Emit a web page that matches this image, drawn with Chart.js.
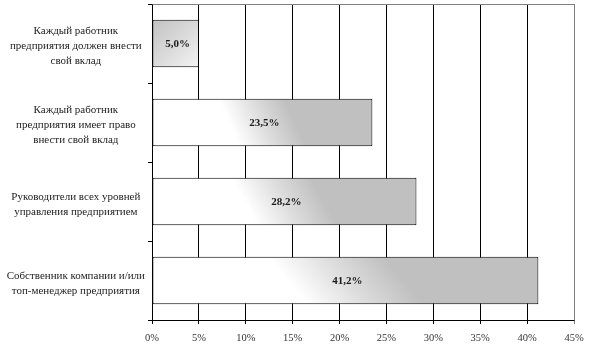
<!DOCTYPE html>
<html lang="ru">
<head>
<meta charset="UTF-8">
<title>Вклад в развитие предприятия</title>
<script src="https://cdn.jsdelivr.net/npm/chart.js"></script>
<style>
    html, body { margin: 0; padding: 0; background: #ffffff; }
    #wrap { width: 589px; height: 351px; }
</style>
</head>
<body>
<div id="wrap"><canvas id="myBarChart" width="589" height="351"></canvas></div>
<script>
// data
var categories = [
    ['Каждый работник', 'предприятия должен внести', 'свой вклад'],
    ['Каждый работник', 'предприятия имеет право', 'внести свой вклад'],
    ['Руководители всех уровней', 'управления предприятием'],
    ['Собственник компании и/или', 'топ-менеджер предприятия']
];
var shares = [5.0, 23.5, 28.2, 41.2];
var xTicks = [0, 5, 10, 15, 20, 25, 30, 35, 40, 45];

var serif = '"Liberation Serif", "DejaVu Serif", serif';

// white -> silver fill, slanted like the original
function barFill(context) {
    var chart = context.chart;
    if (!chart.chartArea || !chart.scales.x || !chart.scales.y) return '#c0c0c0';
    var xs = chart.scales.x, ys = chart.scales.y;
    var x0 = xs.getPixelForValue(0);
    var x1 = xs.getPixelForValue(context.raw);
    var yc = ys.getPixelForValue(context.dataIndex);
    var h = ys.height / categories.length * 0.6;
    var w = x1 - x0;
    var g;
    if (w < 2 * h) {
        g = chart.ctx.createLinearGradient(x0, yc - h / 2, x1, yc + h / 2);
        g.addColorStop(0, '#c2c2c2');
        g.addColorStop(0.55, '#dcdcdc');
        g.addColorStop(1, '#f4f4f4');
        return g;
    }
    var tilt = 0.1 * w;
    var len = Math.sqrt(h * h + tilt * tilt);
    var nx = h / len, ny = -tilt / len;
    var ax = x0 + 0.35 * w, ay = yc;
    var d = 0.3 * w * nx;
    g = chart.ctx.createLinearGradient(ax, ay, ax + nx * d, ay + ny * d);
    g.addColorStop(0, '#ffffff');
    g.addColorStop(0.5, '#dedede');
    g.addColorStop(1, '#c0c0c0');
    return g;
}

var valueLabels = {
    id: 'valueLabels',
    afterDatasetsDraw: function (chart) {
        var ctx = chart.ctx;
        var meta = chart.getDatasetMeta(0);
        ctx.save();
        ctx.font = 'bold 11px ' + serif;
        ctx.fillStyle = '#1a1a1a';
        ctx.textAlign = 'center';
        ctx.textBaseline = 'middle';
        meta.data.forEach(function (bar, i) {
            var txt = shares[i].toFixed(1).replace('.', ',') + '%';
            ctx.fillText(txt, (bar.x + bar.base) / 2 + 2, bar.y + 1);
        });
        ctx.restore();
    }
};

// grey top and right edges of the plot area
var plotFrame = {
    id: 'plotFrame',
    afterDraw: function (chart) {
        var a = chart.chartArea, ctx = chart.ctx;
        ctx.save();
        ctx.strokeStyle = '#808080';
        ctx.lineWidth = 1;
        ctx.beginPath();
        ctx.moveTo(Math.round(a.left) + 0.5, Math.round(a.top) + 0.5);
        ctx.lineTo(Math.round(a.right) + 0.5, Math.round(a.top) + 0.5);
        ctx.lineTo(Math.round(a.right) + 0.5, Math.round(a.bottom) + 0.5);
        ctx.stroke();
        ctx.restore();
    }
};

var ctxBar = document.getElementById('myBarChart').getContext('2d');
var myBarChart = new Chart(ctxBar, {
    type: 'bar',
    data: {
        labels: categories,
        datasets: [{
            data: shares,
            backgroundColor: barFill,
            borderColor: '#000000',
            borderWidth: 1,
            borderSkipped: false,
            categoryPercentage: 1,
            barPercentage: 0.6
        }]
    },
    options: {
        indexAxis: 'y',
        responsive: false,
        animation: false,
        layout: { padding: { top: 4, right: 15, left: 0, bottom: 0 } },
        plugins: {
            legend: { display: false },
            tooltip: { enabled: false }
        },
        scales: {
            x: {
                min: 0,
                max: 45,
                afterBuildTicks: function (scale) {
                    scale.ticks = xTicks.map(function (v) { return { value: v }; });
                },
                afterFit: function (scale) {
                    scale.height = 31;
                    scale.paddingLeft = 0;
                    scale.paddingRight = 0;
                },
                grid: {
                    color: function (c) { return c.index === xTicks.length - 1 ? '#808080' : '#000000'; },
                    lineWidth: 1,
                    tickLength: 4
                },
                border: { color: '#000000', width: 1 },
                ticks: {
                    padding: 8,
                    color: '#333333',
                    font: { family: serif, size: 10.5 },
                    callback: function (v) { return v + '%'; }
                }
            },
            y: {
                afterFit: function (scale) {
                    scale.width = 152;
                    scale.paddingTop = 0;
                    scale.paddingBottom = 0;
                },
                grid: {
                    drawOnChartArea: false,
                    color: '#000000',
                    tickLength: 4
                },
                border: { color: '#000000', width: 1 },
                ticks: {
                    crossAlign: 'center',
                    padding: 3,
                    labelOffset: 3,
                    color: '#222222',
                    font: { family: serif, size: 11, lineHeight: 1.36 }
                }
            }
        }
    },
    plugins: [valueLabels, plotFrame]
});
</script>
</body>
</html>
